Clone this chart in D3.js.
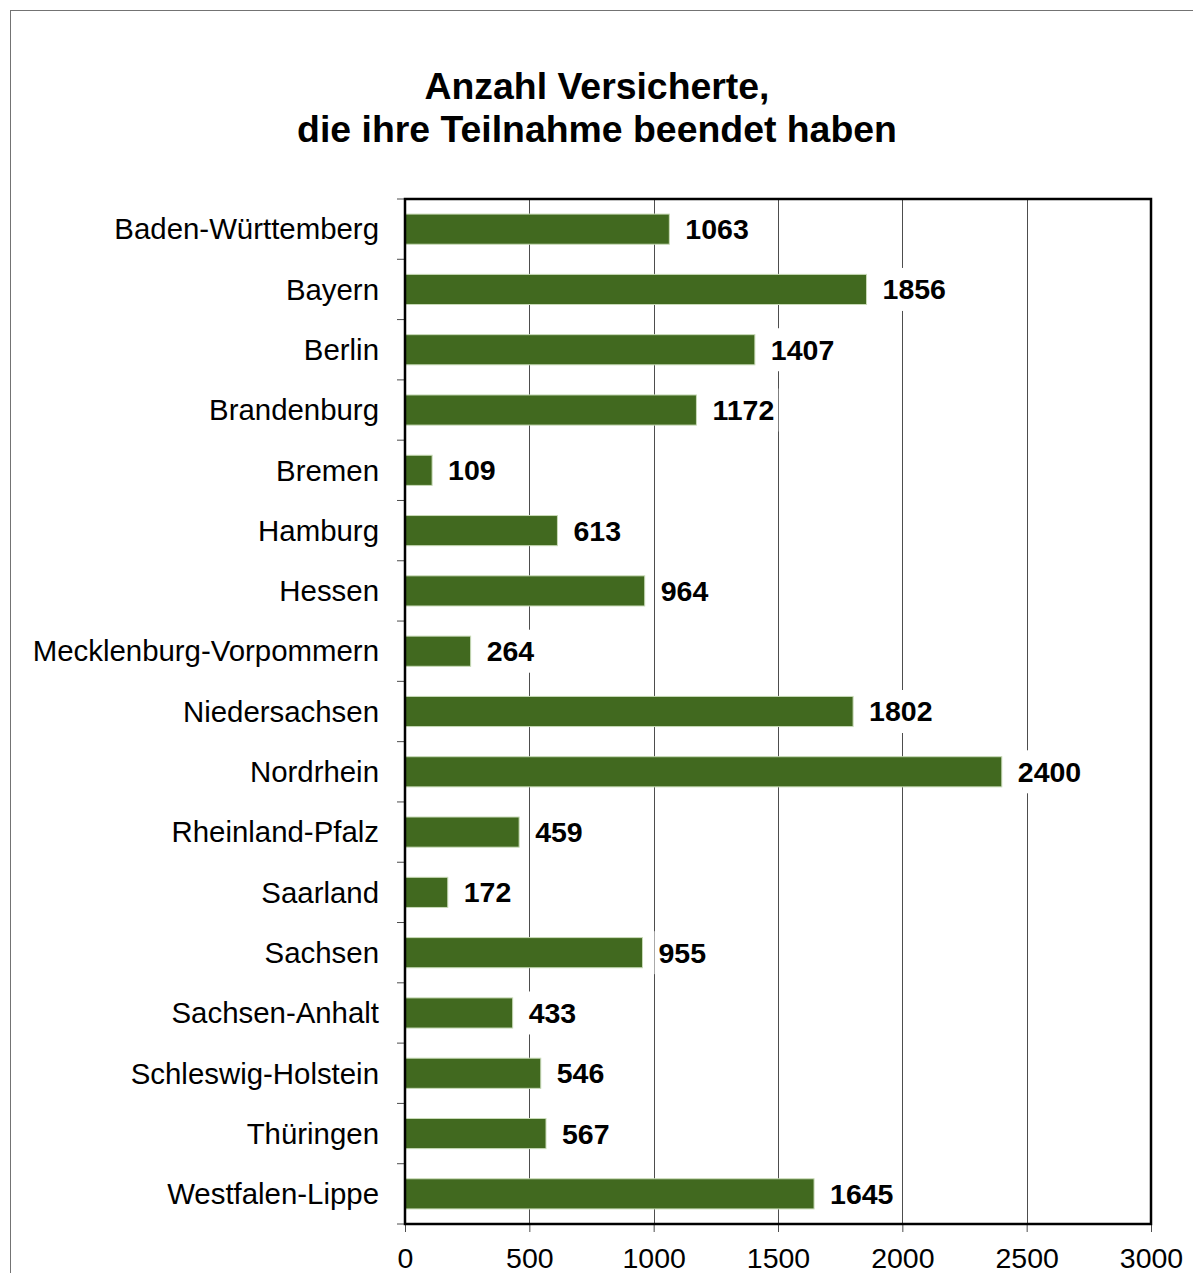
<!DOCTYPE html>
<html>
<head>
<meta charset="utf-8">
<script src="https://cdn.jsdelivr.net/npm/d3@7"></script>
<style>
  html, body { margin: 0; padding: 0; background: #fff; }
  svg { display: block; font-family: "Liberation Sans", Arial, sans-serif; }
</style>
</head>
<body>
<div id="chart"></div>
<script>
// --- Data ---
const titleLines = ["Anzahl Versicherte,", "die ihre Teilnahme beendet haben"];
const states = [
  "Baden-Württemberg", "Bayern", "Berlin", "Brandenburg", "Bremen", "Hamburg",
  "Hessen", "Mecklenburg-Vorpommern", "Niedersachsen", "Nordrhein",
  "Rheinland-Pfalz", "Saarland", "Sachsen", "Sachsen-Anhalt",
  "Schleswig-Holstein", "Thüringen", "Westfalen-Lippe"
];
const counts = [1063, 1856, 1407, 1172, 109, 613, 964, 264, 1802, 2400, 459, 172, 955, 433, 546, 567, 1645];
const xTicks = [0, 500, 1000, 1500, 2000, 2500, 3000];

(function () {
  const W = 1193, H = 1273;
  const plot = { left: 405, right: 1151, top: 199, bottom: 1224 };
  const data = states.map((s, i) => ({ state: s, value: counts[i] }));

  const svg = d3.select("#chart").append("svg")
    .attr("width", W).attr("height", H);

  // outer frame (runs off the right/bottom edge)
  svg.append("rect")
    .attr("x", 10.5).attr("y", 10.5)
    .attr("width", W + 20).attr("height", H + 20)
    .attr("fill", "#fff").attr("stroke", "#737373").attr("stroke-width", 1);

  // title
  svg.append("text")
    .attr("x", 597).attr("y", 99)
    .attr("text-anchor", "middle")
    .attr("font-size", 37.4).attr("font-weight", "bold")
    .selectAll("tspan").data(titleLines).join("tspan")
    .attr("x", 597).attr("dy", (d, i) => i ? 43 : 0)
    .text(d => d);

  // scales
  const x = d3.scaleLinear().domain([0, 3000]).range([plot.left, plot.right]);
  const y = d3.scaleBand().domain(states)
    .range([plot.top, plot.bottom])
    .paddingInner(0.5).paddingOuter(0.25);
  const step = y.step();

  // gridlines
  svg.append("g").selectAll("line")
    .data(xTicks.slice(1, -1)).join("line")
    .attr("x1", d => Math.round(x(d)) + 0.5).attr("x2", d => Math.round(x(d)) + 0.5)
    .attr("y1", plot.top).attr("y2", plot.bottom)
    .attr("stroke", "#4d4d4d").attr("stroke-width", 1);

  // bottom axis
  const xAxis = d3.axisBottom(x).tickValues(xTicks).tickSize(8).tickPadding(16)
    .tickFormat(d3.format("d"));
  const gx = svg.append("g")
    .attr("transform", `translate(0, ${plot.bottom})`)
    .call(xAxis);
  gx.select(".domain").remove();
  gx.selectAll(".tick line").attr("stroke", "#4d4d4d");
  gx.selectAll(".tick text")
    .attr("font-size", 28.5).attr("fill", "#000")
    .attr("font-family", "Liberation Sans, Arial, sans-serif");

  // category boundary ticks on the left
  svg.append("g").selectAll("line")
    .data(d3.range(states.length + 1)).join("line")
    .attr("x1", plot.left - 8).attr("x2", plot.left)
    .attr("y1", i => plot.top + i * step).attr("y2", i => plot.top + i * step)
    .attr("stroke", "#4d4d4d").attr("stroke-width", 1);

  // category labels
  svg.append("g").selectAll("text")
    .data(data).join("text")
    .attr("x", 379)
    .attr("y", d => y(d.state) + y.bandwidth() / 2)
    .attr("dy", "0.35em")
    .attr("text-anchor", "end")
    .attr("font-size", 29.4)
    .text(d => d.state);

  // bars
  svg.append("g").selectAll("rect")
    .data(data).join("rect")
    .attr("x", x(0))
    .attr("y", d => y(d.state))
    .attr("width", d => x(d.value) - x(0))
    .attr("height", y.bandwidth())
    .attr("fill", "#41691f")
    .attr("stroke", "#c9dbb8").attr("stroke-width", 1);

  // value labels with white boxes
  const lab = svg.append("g").selectAll("g")
    .data(data).join("g")
    .attr("transform", d => `translate(${x(d.value) + 16}, ${y(d.state) + y.bandwidth() / 2})`);
  const boxes = lab.append("rect").attr("fill", "#fff");
  const txt = lab.append("text")
    .attr("dy", "0.35em")
    .attr("font-size", 28.5).attr("font-weight", "bold")
    .text(d => d.value);
  txt.each(function (d, i) {
    const b = this.getBBox();
    d3.select(boxes.nodes()[i])
      .attr("x", -4).attr("y", -21.5)
      .attr("width", b.width + 8).attr("height", 43);
  });

  // plot frame
  svg.append("rect")
    .attr("x", plot.left).attr("y", plot.top)
    .attr("width", plot.right - plot.left).attr("height", plot.bottom - plot.top)
    .attr("fill", "none").attr("stroke", "#000").attr("stroke-width", 2.5);
})();
</script>
</body>
</html>
